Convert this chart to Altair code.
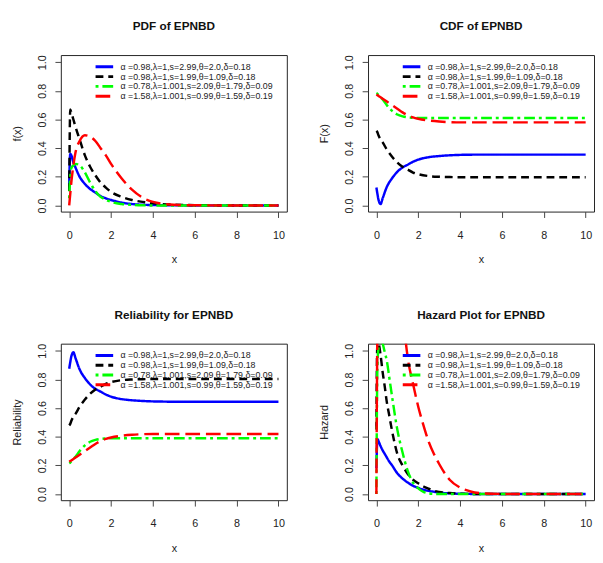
import altair as alt
import pandas as pd

# ---------------- data ----------------
labels = [
    "α =0.98,λ=1,s=2.99,θ=2.0,δ=0.18",
    "α =0.98,λ=1,s=1.99,θ=1.09,δ=0.18",
    "α =0.78,λ=1.001,s=2.09,θ=1.79,δ=0.09",
    "α =1.58,λ=1.001,s=0.99,θ=1.59,δ=0.19",
]
colors = ["#0000FF", "#000000", "#00FF00", "#FF0000"]
dashes = [[1, 0], [8, 5], [3, 4, 11, 4], [15, 6]]

grid_x = [0, 0.05, 0.1, 0.2, 0.3, 0.5, 0.75, 1.0, 1.25, 1.5, 1.75, 2.0, 2.5, 3.0, 3.5, 4.0, 5, 6, 8, 10]

pdf_blue = [0.15, 0.36, 0.35, 0.30, 0.265, 0.20, 0.15, 0.115, 0.09, 0.065, 0.05, 0.038, 0.02, 0.01, 0.005, 0.003, 0.001, 0, 0, 0]
pdf_black = [0.10, 0.67, 0.65, 0.60, 0.55, 0.46, 0.35, 0.27, 0.21, 0.16, 0.125, 0.095, 0.06, 0.038, 0.025, 0.015, 0.005, 0.002, 0, 0]
pdf_green = [0.05, 0.20, 0.26, 0.28, 0.29, 0.28, 0.23, 0.16, 0.10, 0.06, 0.04, 0.025, 0.01, 0.004, 0.001, 0, 0, 0, 0, 0]
pdf_red = [0.0, 0.08, 0.16, 0.28, 0.37, 0.45, 0.49, 0.48, 0.45, 0.40, 0.35, 0.29, 0.19, 0.11, 0.055, 0.025, 0.005, 0.001, 0, 0]

cdf_blue = [0.125, 0.08, 0.04, 0.01, 0.05, 0.13, 0.19, 0.235, 0.265, 0.285, 0.305, 0.32, 0.337, 0.345, 0.35, 0.353, 0.355, 0.355, 0.355, 0.355]
cdf_black = [0.52, 0.51, 0.49, 0.46, 0.44, 0.39, 0.34, 0.30, 0.27, 0.25, 0.23, 0.218, 0.205, 0.20, 0.198, 0.197, 0.197, 0.197, 0.197, 0.197]
cdf_green = [0.785, 0.78, 0.77, 0.755, 0.74, 0.70, 0.66, 0.635, 0.622, 0.615, 0.612, 0.61, 0.61, 0.61, 0.61, 0.61, 0.61, 0.61, 0.61, 0.61]
cdf_red = [0.775, 0.77, 0.765, 0.755, 0.745, 0.725, 0.70, 0.675, 0.65, 0.63, 0.615, 0.605, 0.593, 0.586, 0.582, 0.58, 0.58, 0.58, 0.58, 0.58]

rel_blue = [0.875, 0.92, 0.96, 0.99, 0.95, 0.87, 0.81, 0.765, 0.735, 0.715, 0.695, 0.68, 0.663, 0.655, 0.65, 0.647, 0.645, 0.645, 0.645, 0.645]
rel_black = [0.48, 0.49, 0.51, 0.54, 0.56, 0.61, 0.66, 0.70, 0.73, 0.75, 0.77, 0.782, 0.795, 0.80, 0.802, 0.803, 0.803, 0.803, 0.803, 0.803]
rel_green = [0.215, 0.22, 0.23, 0.245, 0.26, 0.30, 0.34, 0.365, 0.378, 0.385, 0.388, 0.39, 0.39, 0.39, 0.39, 0.39, 0.39, 0.39, 0.39, 0.39]
rel_red = [0.225, 0.23, 0.235, 0.245, 0.255, 0.275, 0.30, 0.325, 0.35, 0.37, 0.385, 0.395, 0.407, 0.414, 0.418, 0.42, 0.42, 0.42, 0.42, 0.42]

haz_x = [0, 0.02, 0.05, 0.1, 0.2, 0.3, 0.4, 0.5, 0.6, 0.75, 1.0, 1.25, 1.5, 1.75, 2.0, 2.25, 2.5, 2.75, 3.0, 3.5, 4.0, 4.5, 5, 6, 8, 10]
haz_blue = [0.18, 0.30, 0.385, 0.37, 0.335, 0.305, 0.28, 0.255, 0.23, 0.20, 0.145, 0.108, 0.08, 0.058, 0.043, 0.03, 0.022, 0.016, 0.01, 0.005, 0.002, 0.001, 0, 0, 0, 0]
haz_black = [0.45, 0.85, 1.05, 1.05, 0.97, 0.85, 0.75, 0.64, 0.56, 0.44, 0.28, 0.20, 0.14, 0.10, 0.075, 0.053, 0.037, 0.023, 0.015, 0.007, 0.003, 0.001, 0, 0, 0, 0]
haz_green = [0.0, 0.50, 0.90, 1.02, 1.08, 1.05, 0.99, 0.93, 0.83, 0.68, 0.45, 0.29, 0.16, 0.08, 0.04, 0.015, 0.005, 0.002, 0, 0, 0, 0, 0, 0, 0, 0]
haz_red = [0.0, 0.60, 1.20, 1.60, 2.00, 2.30, 2.50, 2.60, 2.60, 2.40, 1.90, 1.30, 0.95, 0.77, 0.61, 0.48, 0.365, 0.28, 0.21, 0.10, 0.045, 0.018, 0.006, 0.001, 0, 0]

x_ticks = [0, 2, 4, 6, 8, 10]
y_ticks = [0.0, 0.2, 0.4, 0.6, 0.8, 1.0]

FONT = "Liberation Sans"


def build_df(xs, series_values):
    rows = []
    for i, (lab, ys) in enumerate(zip(labels, series_values)):
        for x, y in zip(xs, ys):
            rows.append({"x": x, "y": y, "series": lab, "k": i})
    return pd.DataFrame(rows)


def legend():
    return alt.Legend(
        title=None, orient="none", legendX=34, legendY=7,
        symbolType="stroke", symbolSize=324, symbolStrokeWidth=3,
        labelFont=FONT, labelFontSize=9, labelColor="#222",
        labelLimit=0, labelOffset=6, clipHeight=10, rowPadding=0,
        padding=0,
    )


def panel(df, title, ytitle):
    return alt.Chart(df, title=alt.TitleParams(title)).mark_line(
        strokeWidth=2.5, clip=True, interpolate="monotone"
    ).encode(
        x=alt.X("x:Q", scale=alt.Scale(domain=[-0.4, 10.4], nice=False, zero=False),
                axis=alt.Axis(values=x_ticks, format="d", title="x", labelPadding=12,
                              titlePadding=14)),
        y=alt.Y("y:Q", scale=alt.Scale(domain=[-0.043, 1.05], nice=False, zero=False),
                axis=alt.Axis(values=y_ticks, format=".1f", title=ytitle, labelAngle=270,
                              labelAlign="center", labelBaseline="bottom", labelPadding=8,
                              titlePadding=14)),
        color=alt.Color("series:N", scale=alt.Scale(domain=labels, range=colors), legend=legend()),
        strokeDash=alt.StrokeDash("series:N", scale=alt.Scale(domain=labels, range=dashes), legend=legend()),
        detail="k:O",
    ).properties(width=231, height=160)


p1 = panel(build_df(grid_x, [pdf_blue, pdf_black, pdf_green, pdf_red]), "PDF of EPNBD", "f(x)")
p2 = panel(build_df(grid_x, [cdf_blue, cdf_black, cdf_green, cdf_red]), "CDF of EPNBD", "F(x)")
p3 = panel(build_df(grid_x, [rel_blue, rel_black, rel_green, rel_red]), "Reliability for EPNBD", "Reliability")
p4 = panel(build_df(haz_x, [haz_blue, haz_black, haz_green, haz_red]), "Hazard Plot for EPNBD", "Hazard")

chart = alt.concat(p1, p2, p3, p4, columns=2, spacing={"row": 44, "column": 31}).resolve_scale(
    color="independent", strokeDash="independent"
).resolve_legend(
    color="independent", strokeDash="independent"
).properties(
    padding={"left": 3, "top": 6, "right": 0, "bottom": 0}
).configure_view(
    stroke="#222", strokeWidth=1
).configure_axis(
    labelFont=FONT, labelFontSize=11, labelColor="#222",
    titleFont=FONT, titleFontSize=11, titleFontWeight="normal", titleColor="#222",
    tickColor="#444", tickSize=6, domain=False, grid=False,
).configure_title(
    font=FONT, fontSize=12, fontWeight="bold", anchor="middle", frame="group",
    offset=22, color="#111",
)

chart.save("out.html", embed_options={"renderer": "svg", "actions": False})
